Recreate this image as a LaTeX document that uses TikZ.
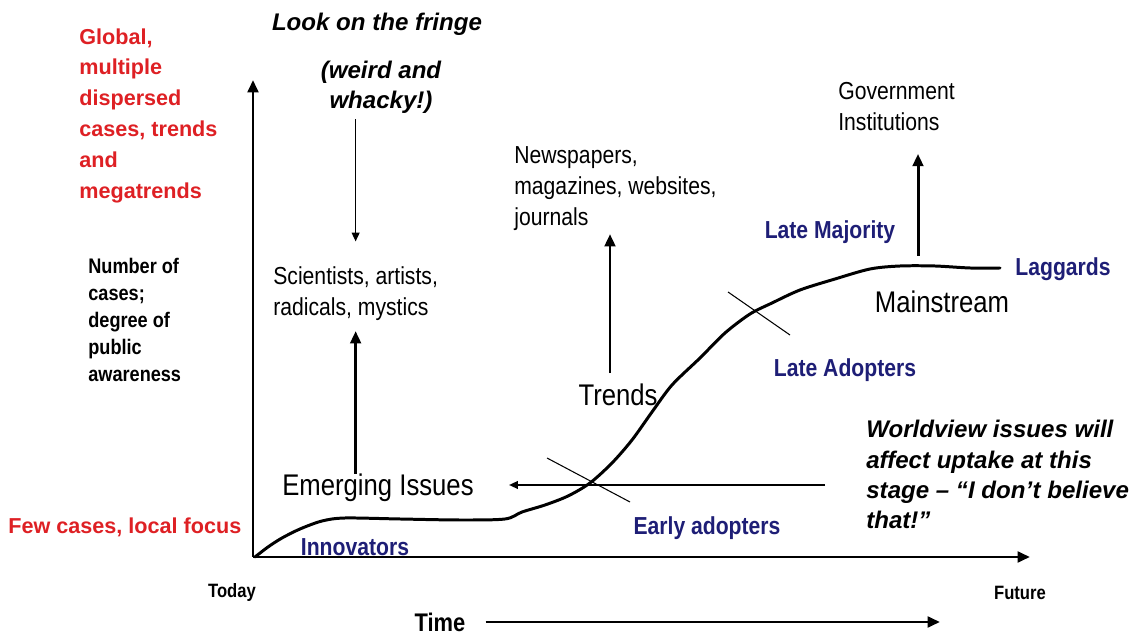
\documentclass[tikz,border=0pt]{standalone}
\usepackage{fontspec}
\setmainfont{Liberation Sans}
\newfontfamily\narrowfont[FakeStretch=0.86]{Liberation Sans}
\usetikzlibrary{arrows.meta}
\definecolor{fringered}{RGB}{222,32,36}
\definecolor{adoptblue}{RGB}{30,30,118}
\begin{document}
\begin{tikzpicture}[x=0.02cm,y=-0.02cm,
    redtext/.style={text=fringered, font=\bfseries\fontsize{12.3}{17.6}\selectfont, inner sep=0pt},
    adopter/.style={text=adoptblue, font=\narrowfont\bfseries\fontsize{14}{16}\selectfont, inner sep=0pt},
    plain/.style={font=\narrowfont\fontsize{14}{17.6}\selectfont, inner sep=0pt, align=left},
    stage/.style={font=\narrowfont\fontsize{17}{19}\selectfont, inner sep=0pt},
    remark/.style={font=\bfseries\itshape\fontsize{13.7}{17.3}\selectfont, inner sep=0pt},
    tiny/.style={font=\narrowfont\bfseries\fontsize{11}{13}\selectfont, inner sep=0pt},
    bigarrow/.style={line width=1.7pt, -{Triangle[length=7pt,width=6pt]}},
    thinarrow/.style={line width=0.7pt, -{Triangle[length=5pt,width=4.5pt]}},
    tick/.style={line width=0.6pt}]
    \useasboundingbox (0,0) rectangle (1137,634);
    % left hand labels
    \node (global) [redtext, anchor=north west, align=left] at (79,28)
        {Global,\\multiple\\dispersed\\cases, trends\\and\\megatrends};
    \node (few) [redtext, anchor=west] at (8,527) {Few cases, local focus};
    \node (cases) [anchor=north west, align=left, inner sep=0pt,
        font=\narrowfont\bfseries\fontsize{12}{15.4}\selectfont] at (88,258)
        {Number of\\cases;\\degree of\\public\\awareness};
    % axes
    \coordinate (origin) at (253,557);
    \coordinate (ytop) at (253,80);
    \coordinate (xend) at (1030,557);
    \draw [bigarrow] (origin) -- (ytop);
    \draw [bigarrow] (origin) -- (xend);
    \node (today) [tiny] at (232,593) {Today};
    \node (future) [tiny] at (1020,593) {Future};
    \node (time) [font=\narrowfont\bfseries\fontsize{14.5}{16}\selectfont, inner sep=0pt] at (440,622) {Time};
    \coordinate (tend) at (940,622);
    \draw [bigarrow] ([xshift=0.4cm]time.east) -- (tend);
    % fringe
    \node (fringe) [remark] at (377,24) {Look on the fringe};
    \node (whacky) [remark, align=center] at (381,87) {(weird and\\whacky!)};
    \node (sci) [plain, anchor=north west] at (273,266) {Scientists, artists,\\radicals, mystics};
    \node (emerging) [stage] at (378,488) {Emerging Issues};
    \draw [thinarrow, shorten <=3pt, shorten >=14pt] (whacky.south -| sci.north) -- (sci.north);
    \draw [bigarrow, shorten >=6pt] (emerging.north -| sci.south) -- (sci.south);
    % trends
    \node (trends) [stage] at (618,395) {Trends};
    \node (news) [plain, anchor=north west] at (514,146) {Newspapers,\\magazines, websites,\\journals};
    \draw [bigarrow, shorten <=6pt, shorten >=2pt] ([xshift=-0.16cm]trends.north) -- ([xshift=-0.16cm]trends.north |- news.south);
    % mainstream
    \node (gov) [plain, anchor=north west] at (838,82) {Government\\Institutions};
    \node (main) [stage] at (942,302) {Mainstream};
    \coordinate (peak) at (918,256);
    \draw [bigarrow, shorten >=13pt] (peak) -- (peak |- gov.south);
    % adopter groups
    \node (innov) [adopter] at (355,547) {Innovators};
    \node (early) [adopter] at (707,528) {Early adopters};
    \node (lateadopt) [adopter] at (845,370) {Late Adopters};
    \node (latemaj) [adopter] at (830,232) {Late Majority};
    \node (lag) [adopter] at (1063,269) {Laggards};
    % the curve
    \draw [line width=1.7pt, line join=round, line cap=round] plot [smooth, tension=0.5] coordinates {
        (255,557) (268,547) (282,538) (300,529) (322,521) (345,518) (400,519)
        (460,520) (505,519) (522,512) (545,505) (568,496) (590,483) (612,463)
        (632,440) (652,412) (672,385) (700,358) (725,333) (750,314) (772,303)
        (800,290) (835,279) (870,269) (900,266) (935,266) (970,268) (1000,268)};
    \draw [tick] (547,458) -- (630,502);
    \draw [tick] (728,292) -- (790,335);
    % worldview note
    \node (world) [remark, anchor=north west, align=left] at (866,420)
        {Worldview issues will\\affect uptake at this\\stage -- \textquotedblleft I don\textquoteright t believe\\that!\textquotedblright};
    \coordinate (wstart) at (825,485);
    \draw [thinarrow, shorten >=20pt] (wstart) -- (wstart -| emerging.east);
\end{tikzpicture}
\end{document}
